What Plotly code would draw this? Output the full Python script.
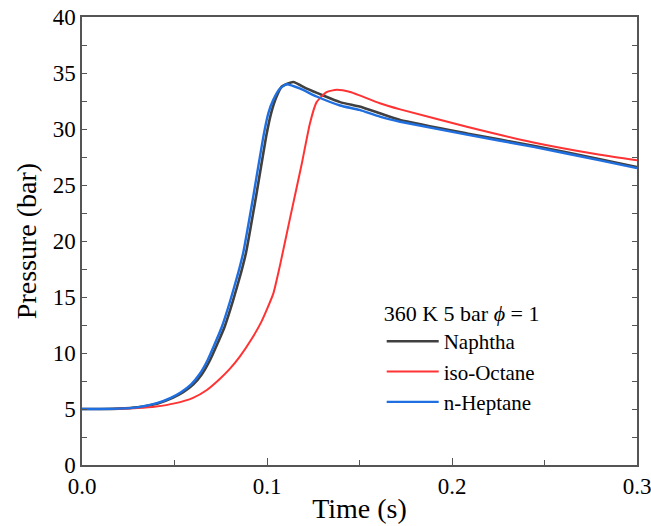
import plotly.graph_objects as go

# n-Heptane
t_hep = [0, 0.01, 0.02, 0.03, 0.04, 0.048, 0.0535, 0.059, 0.0635, 0.068, 0.0755, 0.08, 0.0845,
         0.0872, 0.0926, 0.098, 0.1007, 0.1034, 0.107, 0.1106, 0.118, 0.1268, 0.1395, 0.150,
         0.161, 0.172, 0.208, 0.244, 0.28, 0.3]
p_hep = [5.0, 5.0, 5.03, 5.15, 5.5, 6.0, 6.5, 7.2, 8.1, 9.4, 12.3, 14.6, 17.2,
         19.0, 24.0, 29.3, 31.4, 32.6, 33.6, 34.0, 33.6, 32.9, 32.1, 31.7,
         31.1, 30.65, 29.5, 28.4, 27.2, 26.5]

# Naphtha
t_nap = [0, 0.01, 0.02, 0.03, 0.041, 0.049, 0.0547, 0.0602, 0.0648, 0.0693, 0.077, 0.0815,
         0.086, 0.0887, 0.0941, 0.0995, 0.1022, 0.1049, 0.108, 0.1142, 0.1215, 0.1395, 0.150,
         0.161, 0.172, 0.208, 0.244, 0.28, 0.3]
p_nap = [5.0, 5.0, 5.03, 5.15, 5.5, 6.0, 6.5, 7.2, 8.1, 9.4, 12.3, 14.6,
         17.2, 19.0, 24.0, 29.3, 31.4, 32.8, 33.8, 34.2, 33.6, 32.4, 32.0,
         31.4, 30.8, 29.6, 28.5, 27.3, 26.6]

# iso-Octane
t_oct = [0, 0.01, 0.02, 0.03, 0.04, 0.05, 0.06, 0.0675, 0.0746, 0.08, 0.0854, 0.0915, 0.097,
         0.1034, 0.107, 0.1124, 0.1188, 0.1232, 0.1268, 0.1322, 0.1377, 0.145, 0.150, 0.161,
         0.172, 0.208, 0.244, 0.28, 0.3]
p_oct = [5.0, 5.0, 5.02, 5.08, 5.22, 5.5, 6.0, 6.7, 7.7, 8.6, 9.7, 11.2, 12.8,
         15.3, 17.8, 22.0, 26.9, 30.5, 32.4, 33.3, 33.5, 33.3, 33.0, 32.3,
         31.75, 30.2, 28.8, 27.7, 27.2]

x_ticks = [0.0, 0.1, 0.2, 0.3]
x_tick_labels = ["0.0", "0.1", "0.2", "0.3"]
y_ticks = [0, 5, 10, 15, 20, 25, 30, 35, 40]

FONT = "Liberation Serif, Times New Roman, serif"
AX = "#555555"

fig = go.Figure()
fig.add_trace(go.Scatter(x=t_nap, y=p_nap, mode="lines", name="Naphtha",
                         line=dict(color="#404040", width=2.6, shape="spline", smoothing=0.5)))
fig.add_trace(go.Scatter(x=t_oct, y=p_oct, mode="lines", name="iso-Octane",
                         line=dict(color="#ff3333", width=2.0, shape="spline", smoothing=0.5)))
fig.add_trace(go.Scatter(x=t_hep, y=p_hep, mode="lines", name="n-Heptane",
                         line=dict(color="#1f6fe0", width=2.4, shape="spline", smoothing=0.5)))

fig.update_layout(
    width=651, height=526,
    margin=dict(l=82, r=14, t=17, b=61),
    paper_bgcolor="white", plot_bgcolor="white",
    font=dict(family=FONT, size=23, color="black"),
    showlegend=True,
    legend=dict(
        x=0.54, y=0.385, xanchor="left", yanchor="top",
        bgcolor="rgba(0,0,0,0)",
        font=dict(family=FONT, size=21, color="black"),
        title=dict(text="360 K 5 bar <i>ϕ</i> = 1", font=dict(family=FONT, size=22, color="black")),
        tracegroupgap=0, itemwidth=52,
    ),
    xaxis=dict(
        range=[0, 0.3], tickvals=x_ticks, ticktext=x_tick_labels,
        showgrid=False, zeroline=False, ticklabeloverflow="allow", automargin=False,
        showline=True, linecolor=AX, linewidth=1.5, mirror=True,
        ticks="inside", ticklen=7, tickwidth=1.3, tickcolor=AX,
        minor=dict(dtick=0.05, ticks="inside", ticklen=5, tickwidth=1.3, tickcolor=AX),
        tickfont=dict(family=FONT, size=23, color="black"),
        title=dict(text="Time (s)", font=dict(family=FONT, size=28, color="black"), standoff=0),
    ),
    yaxis=dict(
        range=[0, 40], tickvals=y_ticks, automargin=False,
        showgrid=False, zeroline=False,
        showline=True, linecolor=AX, linewidth=1.5, mirror="ticks",
        ticks="inside", ticklen=5, tickwidth=1.3, tickcolor=AX,
        minor=dict(dtick=2.5, ticks="inside", ticklen=5, tickwidth=1.3, tickcolor=AX),
        tickfont=dict(family=FONT, size=23, color="black"),
        title=dict(text="Pressure (bar)", font=dict(family=FONT, size=28, color="black"), standoff=8),
    ),
)

fig.write_html("out.html")
